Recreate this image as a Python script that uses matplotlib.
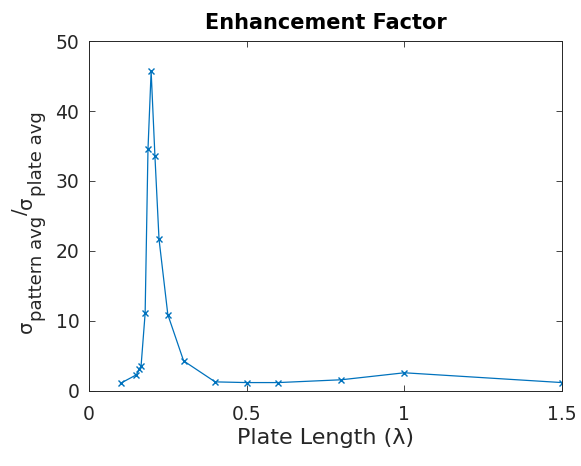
import matplotlib
matplotlib.use("Agg")
import matplotlib.pyplot as plt

plate_length = [0.1, 0.15, 0.16, 0.165, 0.178, 0.187, 0.197, 0.209, 0.222, 0.25,
                0.3, 0.4, 0.5, 0.6, 0.8, 1.0, 1.5]
enhancement = [1.1, 2.3, 3.1, 3.5, 11.1, 34.5, 45.7, 33.6, 21.7, 10.9,
               4.3, 1.3, 1.2, 1.2, 1.6, 2.6, 1.2]
xticks = [0, 0.5, 1, 1.5]
xticklabels = ["0", "0.5", "1", "1.5"]
yticks = [0, 10, 20, 30, 40, 50]
title_text = "Enhancement Factor"
xlabel_text = "Plate Length (\u03bb)"
# y label pieces: (text, is_subscript)
ylabel_parts = [("\u03c3", False), ("pattern avg", True), ("/", False),
                ("\u03c3", False), ("plate avg", True)]

plt.rcParams['font.family'] = ['DejaVu Sans']

W, H = 581, 466
axcol = '#262626'
fig = plt.figure(figsize=(W / 100, H / 100), dpi=100)
ax = fig.add_axes([0.1532, 0.161, 0.8141, 0.751])
ax.plot(plate_length, enhancement, color='#0072BD', lw=0.9, marker='x',
        markersize=5, markeredgewidth=1.0)
ax.set_xlim(0, 1.5)
ax.set_ylim(0, 50)
ax.set_xticks(xticks)
ax.set_xticklabels(xticklabels)
ax.set_yticks(yticks)
ax.tick_params(direction='in', top=True, right=True, labelsize=13.5,
               colors=axcol, length=4, width=0.6)
ax.tick_params(axis='x', pad=10)
ax.tick_params(axis='y', pad=7)
for s in ax.spines.values():
    s.set_color(axcol)
    s.set_linewidth(0.7)
ax.set_title(title_text, fontsize=15, fontweight='bold', color='black', pad=9)
ax.set_xlabel(xlabel_text, fontsize=16, color=axcol, labelpad=3)

# y label built from pieces so the subscripts stay near full size (MATLAB tex style)
renderer = fig.canvas.get_renderer()
main_x, sub_x = 32, 42          # baseline positions in pixels from the left
y_cur = 333                     # pixels from the top, label runs upward
for txt, is_sub in ylabel_parts:
    xb = sub_x if is_sub else (main_x - 6 if txt == "/" else main_x)
    size = 13 if is_sub else 14
    t = fig.text(xb / W, 1 - y_cur / H, txt, rotation=90, rotation_mode='anchor',
                 ha='left', va='baseline', fontsize=size, color=axcol)
    bb = t.get_window_extent(renderer)
    y_cur -= bb.height

fig.savefig('out.png', dpi=100, facecolor='white')
